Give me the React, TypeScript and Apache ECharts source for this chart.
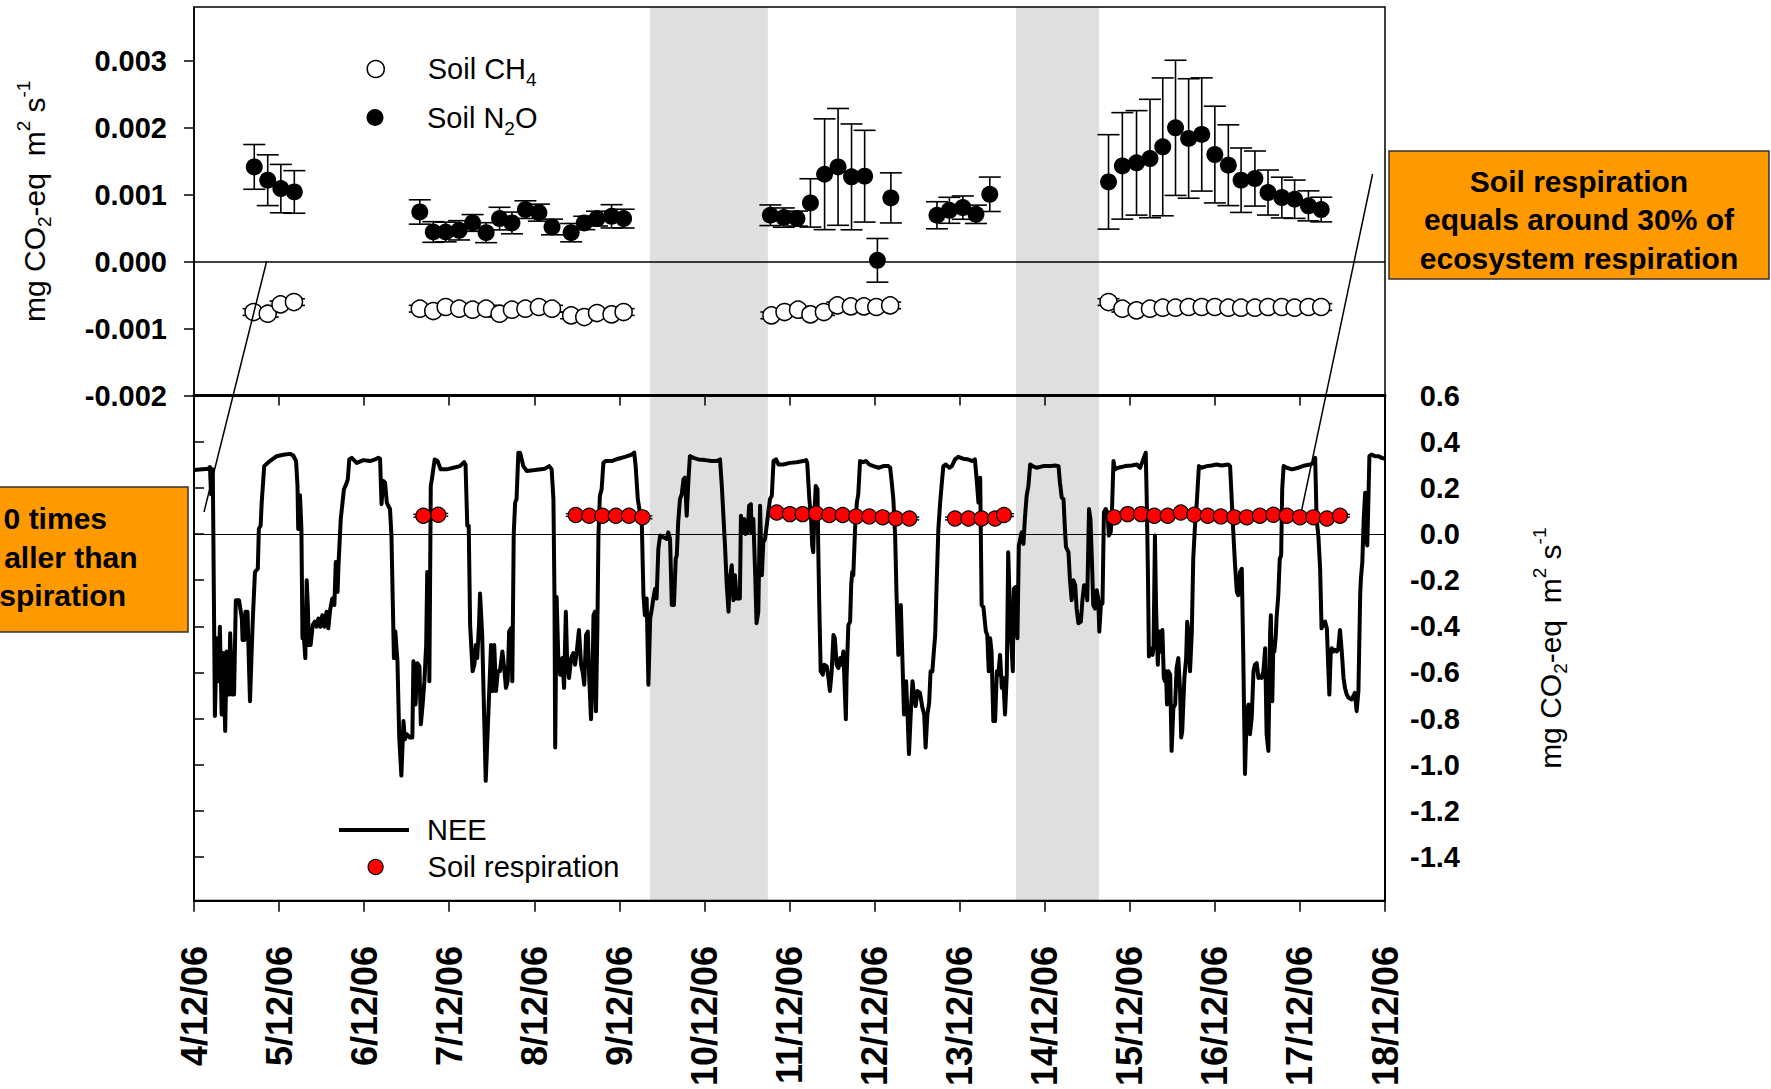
import React, { useEffect, useRef } from 'react';
import * as echarts from 'echarts';

const FONT = '"Liberation Sans", Arial, Helvetica, sans-serif';

// Time axis: hours since 4 Dec 2006 00:00, one tick per day
const dayLabels = [
  '4/12/06', '5/12/06', '6/12/06', '7/12/06', '8/12/06', '9/12/06', '10/12/06', '11/12/06',
  '12/12/06', '13/12/06', '14/12/06', '15/12/06', '16/12/06', '17/12/06', '18/12/06',
];
const soilTicks = [-0.002, -0.001, 0, 0.001, 0.002, 0.003];
const neeTicks = [-1.4, -1.2, -1.0, -0.8, -0.6, -0.4, -0.2, 0, 0.2, 0.4, 0.6];

// Shaded periods (hours)
const shadedPeriods = [
  [128.6, 161.9],
  [231.9, 255.3],
];

// Soil N2O flux, mg CO2-eq m-2 s-1 (mean and error)
const n2oHours = [
  17.0, 20.8, 24.5, 28.3,
  63.7, 67.5, 71.0, 74.8, 78.6, 82.4, 86.2, 89.7, 93.5, 97.3, 101.0, 106.4, 110.1, 113.7, 117.8, 121.2,
  162.6, 166.4, 170.1, 173.9, 177.9, 181.7, 185.5, 189.2, 192.8, 196.6,
  209.6, 213.1, 216.9, 220.6, 224.5,
  258.0, 261.9, 265.9, 269.7, 273.3, 276.9, 280.6, 284.3, 288.0, 291.8, 295.4, 299.3, 303.0, 306.9, 310.5, 314.4, 318.0,
];
const n2oFlux = [
  0.001413, 0.001214, 0.001089, 0.001039,
  0.00074, 0.000441, 0.000441, 0.000466, 0.000576, 0.000431, 0.000641, 0.000576, 0.000775, 0.00073, 0.000516, 0.000431, 0.000576, 0.000641, 0.000675, 0.000641,
  0.000691, 0.000656, 0.000641, 0.000875, 0.001303, 0.001413, 0.001264, 0.001274, 0.000018, 0.00095,
  0.000691, 0.000765, 0.000805, 0.000705, 0.001004,
  0.001189, 0.001428, 0.001473, 0.001538, 0.001712, 0.001996, 0.001837, 0.001897, 0.001597, 0.001438, 0.001214, 0.001239, 0.00103, 0.000955, 0.00093, 0.000831, 0.000776,
];
const n2oErr = [
  0.000334, 0.000379, 0.000361, 0.000318,
  0.000182, 0.000154, 0.000147, 0.000144, 0.000125, 0.000149, 0.000169, 0.000162, 0.000132, 0.000127, 0.000117, 0.000137, 0.0001, 0.00011, 0.000174, 0.00014,
  0.000154, 0.000144, 0.000112, 0.000361, 0.000827, 0.000872, 0.00079, 0.000685, 0.000326, 0.000374,
  0.000202, 0.000194, 0.000174, 0.000137, 0.000257,
  0.000705, 0.000795, 0.00078, 0.000884, 0.001029, 0.001009, 0.000892, 0.000845, 0.000722, 0.000603, 0.000481, 0.000411, 0.000336, 0.000304, 0.000286, 0.000224, 0.000184,
];

// Soil CH4 flux, mg CO2-eq m-2 s-1
const ch4Hours = [
  16.8, 20.8, 24.4, 28.2,
  63.7, 67.5, 71.0, 74.8, 78.6, 82.4, 86.2, 89.7, 93.5, 97.3, 101.0, 106.4, 110.1, 113.7, 117.8, 121.2,
  162.9, 166.6, 170.4, 173.9, 177.7, 181.5, 185.3, 189.0, 192.5, 196.4,
  258.0, 261.9, 265.9, 269.7, 273.3, 276.9, 280.6, 284.3, 288.0, 291.8, 295.4, 299.3, 303.0, 306.9, 310.5, 314.4, 318.0,
];
const ch4Flux = [
  -0.000754, -0.000779, -0.00064, -0.000605,
  -0.000704, -0.000739, -0.000679, -0.000704, -0.000719, -0.000704, -0.000779, -0.000719, -0.000704, -0.000679, -0.000704, -0.000804, -0.000829, -0.000769, -0.000789, -0.000754,
  -0.000804, -0.000754, -0.000719, -0.000789, -0.000754, -0.000655, -0.00067, -0.00067, -0.000679, -0.000655,
  -0.000605, -0.000704, -0.000729, -0.000704, -0.000689, -0.000689, -0.000679, -0.000679, -0.000679, -0.000689, -0.000689, -0.000689, -0.000679, -0.000679, -0.000689, -0.000679, -0.000679,
];
const ch4Err = [
  0.00005, 0.00005, 0.00005, 0.00005,
  0.00005, 0.00005, 0.00005, 0.00005, 0.00005, 0.00005, 0.00005, 0.00005, 0.00005, 0.00005, 0.00005, 0.00005, 0.00005, 0.00005, 0.00005, 0.00005,
  0.00005, 0.00005, 0.00005, 0.00005, 0.00005, 0.00005, 0.00005, 0.00005, 0.00005, 0.00005,
  0.00005, 0.00005, 0.00005, 0.00005, 0.00005, 0.00005, 0.00005, 0.00005, 0.00005, 0.00005, 0.00005, 0.00005, 0.00005, 0.00005, 0.00005, 0.00005, 0.00005,
];

// Soil respiration, mg CO2-eq m-2 s-1
const respHours = [
  64.7, 68.9,
  107.7, 111.5, 115.2, 119.0, 122.7, 126.5,
  164.4, 168.1, 171.7, 175.5, 179.2, 183.0, 186.8, 190.5, 194.3, 198.0, 201.8,
  214.7, 218.5, 222.2, 226.0, 228.5,
  259.6, 263.4, 267.2, 270.9, 274.7, 278.4, 282.2, 286.0, 289.7, 293.5, 297.0, 300.7, 304.5, 308.3, 312.0, 315.8, 319.6, 323.3,
];
const respFlux = [
  0.079, 0.083,
  0.082, 0.079, 0.079, 0.079, 0.079, 0.072,
  0.093, 0.086, 0.086, 0.089, 0.082, 0.082, 0.076, 0.076, 0.072, 0.067, 0.067,
  0.067, 0.067, 0.067, 0.067, 0.082,
  0.072, 0.086, 0.086, 0.079, 0.079, 0.093, 0.083, 0.079, 0.076, 0.072, 0.072, 0.079, 0.083, 0.079, 0.072, 0.072, 0.067, 0.079,
];
const respErr = [
  0.006, 0.006,
  0.006, 0.006, 0.006, 0.006, 0.006, 0.006,
  0.006, 0.006, 0.006, 0.006, 0.006, 0.006, 0.006, 0.006, 0.006, 0.006, 0.006,
  0.006, 0.006, 0.006, 0.006, 0.006,
  0.006, 0.006, 0.006, 0.006, 0.006, 0.006, 0.006, 0.006, 0.006, 0.006, 0.006, 0.006, 0.006, 0.006, 0.006, 0.006, 0.006, 0.006,
];

// Net ecosystem exchange [hour, mg CO2-eq m-2 s-1]
const nee: [number, number][] = [
  [0, 0.277], [4.0, 0.283], [4.5, 0.29], [4.8, 0.172], [5.3, 0.28], [5.9, -0.789], [6.4, -0.452], [6.9, -0.638], [7.3, -0.402], [7.8, -0.782],
  [8.3, -0.516], [8.8, -0.854], [9.2, -0.509], [9.9, -0.696], [10.2, -0.43], [10.8, -0.696], [11.3, -0.696], [11.8, -0.287], [12.7, -0.287], [13.5, -0.366],
  [13.7, -0.459], [14.2, -0.459], [14.5, -0.337], [15.1, -0.337], [15.4, -0.509], [15.8, -0.725], [16.2, -0.538], [16.6, -0.366], [17.2, -0.165], [18.0, -0.151],
  [18.3, 0.022], [18.8, 0.036], [19.1, 0.136], [19.8, 0.294], [20.3, 0.301], [21.4, 0.316], [23.3, 0.337], [25.2, 0.343], [27.1, 0.347], [28.0, 0.34],
  [28.8, 0.316], [29.2, 0.208], [29.4, 0.022], [29.9, 0.168], [30.3, 0.022], [30.6, -0.452], [31.0, -0.445], [31.4, -0.538], [31.8, -0.201], [32.1, -0.308],
  [32.4, -0.481], [32.9, -0.481], [33.5, -0.395], [34.1, -0.38], [34.6, -0.402], [35.1, -0.366], [35.7, -0.402], [36.2, -0.352], [36.8, -0.402], [37.4, -0.337],
  [37.9, -0.409], [38.4, -0.33], [39.0, -0.28], [39.6, -0.308], [40.0, -0.122], [40.5, -0.251], [40.8, -0.122], [41.4, 0.065], [41.9, 0.136], [42.3, 0.194],
  [42.9, 0.215], [43.4, 0.237], [43.8, 0.323], [44.5, 0.33], [45.9, 0.308], [47.8, 0.32], [49.7, 0.316], [51.1, 0.323], [52.0, 0.33], [52.5, 0.326],
  [52.9, 0.129], [53.4, 0.23], [53.9, 0.222], [54.4, 0.136], [54.8, 0.122], [55.3, 0.108], [55.7, -0.007], [56.1, -0.308], [56.4, -0.538], [56.8, -0.423],
  [57.4, -0.552], [57.9, -0.882], [58.5, -1.047], [59.1, -0.811], [59.5, -0.89], [60.0, -0.868], [60.9, -0.882], [61.6, -0.882], [61.9, -0.552], [62.5, -0.739],
  [63.0, -0.56], [63.6, -0.574], [64.0, -0.825], [64.5, -0.739], [65.0, -0.638], [65.5, -0.481], [65.8, -0.165], [66.2, -0.172], [66.4, -0.638], [66.8, 0.208],
  [67.1, 0.237], [67.9, 0.323], [68.7, 0.316], [69.6, 0.28], [71.3, 0.28], [73.2, 0.287], [75.0, 0.294], [76.2, 0.311], [76.6, 0.301], [77.1, 0.036],
  [77.5, 0.036], [77.9, -0.395], [78.6, -0.595], [79.1, -0.567], [79.5, -0.481], [79.9, -0.538], [80.4, -0.395], [80.7, -0.258], [81.3, -0.438], [82.3, -1.07],
  [83.8, -0.481], [84.2, -0.681], [84.7, -0.481], [85.2, -0.681], [85.7, -0.595], [86.3, -0.595], [87.0, -0.509], [87.6, -0.595], [88.0, -0.667], [88.5, -0.638],
  [88.9, -0.423], [89.4, -0.409], [89.8, -0.638], [90.2, 0], [90.6, 0.136], [91.0, 0.151], [91.5, 0.352], [92.0, 0.352], [92.9, 0.294], [93.9, 0.273],
  [96.2, 0.277], [99.0, 0.283], [100.2, 0.294], [100.9, 0.28], [101.4, 0.151], [101.7, -0.28], [101.9, -0.925], [102.3, -0.273], [102.8, -0.552], [103.3, -0.61],
  [103.9, -0.538], [104.4, -0.667], [104.9, -0.337], [105.3, -0.567], [105.8, -0.624], [106.4, -0.538], [107.0, -0.516], [107.5, -0.567], [108.0, -0.509], [108.6, -0.416],
  [109.2, -0.567], [109.7, -0.603], [110.1, -0.653], [110.6, -0.438], [111.1, -0.423], [111.5, -0.624], [112.0, -0.803], [112.4, -0.653], [112.7, -0.352], [113.1, -0.337],
  [113.4, -0.768], [113.8, -0.409], [114.1, -0.007], [114.5, 0.165], [115.0, 0.194], [115.5, 0.308], [116.1, 0.316], [117.8, 0.316], [119.7, 0.326], [121.6, 0.334],
  [123.5, 0.344], [124.2, 0.352], [124.6, 0.294], [125.2, 0.151], [125.8, 0.093], [126.3, 0.065], [126.8, -0.265], [127.2, -0.352], [127.7, -0.28], [128.2, -0.653],
  [128.7, -0.366], [129.1, -0.33], [129.6, -0.28], [130.1, -0.237], [130.5, -0.28], [131.0, -0.065], [131.5, -0.007], [132.4, -0.014], [133.4, -0.022], [133.8, 0.007],
  [134.3, -0.022], [134.8, -0.308], [135.4, -0.308], [135.9, -0.108], [136.2, -0.093], [136.6, 0.05], [137.1, 0.151], [137.6, 0.172], [138.1, 0.237], [138.5, 0.244],
  [139.0, 0.079], [139.5, 0.237], [139.9, 0.337], [140.9, 0.33], [142.3, 0.323], [144.2, 0.32], [146.0, 0.316], [147.5, 0.316], [148.4, 0.323], [148.9, 0.208],
  [149.8, -0.05], [150.3, -0.222], [150.8, -0.337], [151.2, -0.194], [151.7, -0.136], [152.2, -0.287], [152.6, -0.179], [153.1, -0.28], [154.0, -0.28], [154.3, 0.079],
  [154.8, 0.007], [155.2, 0.065], [155.6, 0], [156.2, 0.007], [156.6, 0.122], [157.1, 0.129], [157.3, 0.007], [157.8, 0.065], [158.3, -0.165], [158.7, -0.387],
  [159.2, -0.337], [159.7, 0.122], [160.2, -0.179], [160.6, -0.036], [161.1, -0.022], [161.8, 0.065], [162.5, 0.151], [163.0, 0.165], [163.5, 0.316], [164.2, 0.323],
  [164.9, 0.301], [166.3, 0.301], [168.1, 0.308], [170.0, 0.311], [171.9, 0.316], [172.7, 0.32], [173.0, 0.308], [173.6, 0.151], [174.1, 0.065], [174.4, -0.05],
  [174.7, -0.079], [175.0, 0.079], [175.4, 0.208], [175.9, 0.194], [176.1, -0.05], [176.4, -0.308], [176.8, -0.595], [177.4, -0.61], [177.8, -0.567], [178.5, -0.574],
  [179.0, -0.624], [179.4, -0.681], [179.9, -0.595], [180.4, -0.438], [180.8, -0.452], [181.3, -0.567], [181.8, -0.581], [182.3, -0.538], [182.7, -0.567], [183.2, -0.509],
  [183.5, -0.638], [183.9, -0.803], [184.1, -0.624], [184.6, -0.395], [185.1, -0.38], [185.4, -0.222], [185.7, -0.165], [186.0, -0.179], [186.5, 0.022], [187.0, 0.136],
  [187.4, 0.172], [187.9, 0.316], [188.8, 0.311], [189.6, 0.316], [190.5, 0.301], [191.7, 0.294], [193.1, 0.287], [194.5, 0.294], [195.9, 0.294], [196.4, 0.287],
  [196.8, 0.23], [197.3, 0.151], [197.8, -0.007], [198.2, -0.265], [198.7, -0.524], [199.0, -0.395], [199.4, -0.308], [199.9, -0.567], [200.3, -0.782], [200.9, -0.638],
  [201.3, -0.782], [201.7, -0.954], [202.2, -0.782], [202.7, -0.638], [203.1, -0.696], [203.6, -0.746], [204.1, -0.681], [204.8, -0.689], [205.5, -0.753], [206.0, -0.782],
  [206.4, -0.925], [206.9, -0.782], [207.4, -0.732], [207.8, -0.595], [208.3, -0.595], [208.8, -0.495], [209.1, -0.438], [209.5, -0.222], [210.0, 0.022], [210.5, 0.136],
  [210.9, 0.208], [211.4, 0.294], [212.1, 0.301], [213.1, 0.287], [213.8, 0.294], [214.7, 0.323], [215.6, 0.334], [217.0, 0.326], [218.5, 0.323], [219.4, 0.316],
  [220.3, 0.323], [220.8, 0.237], [221.3, 0.136], [221.8, 0.244], [222.2, -0.308], [222.7, -0.316], [223.4, -0.423], [223.8, -0.438], [224.2, -0.595], [224.6, -0.452],
  [225.0, -0.509], [225.5, -0.811], [226.0, -0.811], [226.5, -0.595], [226.9, -0.61], [227.4, -0.524], [227.9, -0.667], [228.3, -0.624], [228.8, -0.782], [229.3, -0.61],
  [229.7, -0.079], [230.0, -0.237], [230.5, -0.452], [231.0, -0.595], [231.3, -0.237], [231.8, -0.23], [232.3, -0.452], [232.7, -0.05], [233.0, -0.029], [233.5, 0.007],
  [234.0, -0.043], [234.4, 0.065], [234.9, 0.165], [235.4, 0.208], [235.9, 0.301], [236.6, 0.294], [237.7, 0.287], [239.6, 0.294], [241.5, 0.294], [242.9, 0.297],
  [243.9, 0.294], [244.3, 0.222], [244.8, 0.158], [245.3, 0.151], [245.7, 0.022], [246.0, -0.057], [246.7, -0.079], [247.1, -0.194], [247.6, -0.287], [248.1, -0.201],
  [248.6, -0.222], [249.0, -0.323], [249.5, -0.387], [250.2, -0.38], [250.6, -0.294], [251.1, -0.222], [251.7, -0.222], [252.0, -0.287], [252.5, 0.108], [252.9, 0.065],
  [253.3, -0.108], [253.7, -0.308], [254.2, -0.323], [254.7, -0.244], [255.1, -0.28], [255.4, -0.423], [255.9, -0.294], [256.3, -0.301], [256.7, 0.093], [257.2, 0.108],
  [257.7, 0.093], [258.1, -0.007], [258.6, 0.007], [258.9, 0.065], [259.4, 0.316], [259.8, 0.28], [260.8, 0.287], [262.7, 0.294], [264.5, 0.297], [266.0, 0.301],
  [266.9, 0.287], [267.8, 0.323], [268.5, 0.352], [268.8, 0.136], [269.1, -0.151], [269.4, -0.531], [269.8, -0.495], [270.4, -0.524], [270.7, -0.495], [271.1, -0.007],
  [271.4, -0.308], [271.9, -0.567], [272.3, -0.423], [272.8, -0.509], [273.2, -0.416], [273.6, -0.624], [273.9, -0.638], [274.2, -0.595], [274.5, -0.739], [274.9, -0.595],
  [275.4, -0.61], [275.8, -0.94], [276.3, -0.753], [276.8, -0.739], [277.2, -0.581], [277.7, -0.538], [278.2, -0.681], [278.5, -0.882], [278.8, -0.854], [279.4, -0.624],
  [279.9, -0.538], [280.2, -0.38], [280.5, -0.423], [281.0, -0.595], [281.5, -0.423], [281.9, -0.108], [282.4, 0.036], [282.9, 0.136], [283.5, 0.294], [284.3, 0.287],
  [285.7, 0.294], [287.1, 0.297], [288.5, 0.301], [289.9, 0.297], [291.8, 0.301], [292.3, 0.294], [292.8, 0.136], [293.2, 0.007], [293.7, -0.136], [294.2, -0.251],
  [294.6, -0.265], [295.1, -0.165], [295.6, -0.151], [296.0, -0.509], [296.5, -1.04], [297.0, -0.768], [297.5, -0.739], [297.9, -0.868], [298.4, -0.796], [298.9, -0.595],
  [299.3, -0.567], [299.8, -0.56], [300.3, -0.624], [300.7, -0.617], [301.2, -0.624], [301.7, -0.595], [302.2, -0.495], [302.6, -0.868], [303.1, -0.94], [303.6, -0.423],
  [303.8, -0.352], [304.2, -0.725], [304.5, -0.481], [304.8, -0.509], [305.2, -0.438], [305.4, -0.366], [305.9, -0.265], [306.3, -0.108], [306.7, -0.093], [307.0, 0.194],
  [307.4, 0.294], [308.3, 0.287], [309.7, 0.28], [311.6, 0.287], [313.4, 0.297], [314.9, 0.301], [315.8, 0.308], [316.3, 0.33], [316.7, 0.065], [317.2, -0.007],
  [317.7, -0.151], [318.1, -0.409], [318.6, -0.395], [319.1, -0.38], [319.6, -0.409], [320.0, -0.581], [320.3, -0.696], [320.7, -0.509], [321.0, -0.495], [321.4, -0.509],
  [321.9, -0.502], [322.4, -0.509], [322.8, -0.502], [323.3, -0.416], [323.8, -0.509], [324.3, -0.624], [324.7, -0.667], [325.2, -0.696], [325.7, -0.71], [326.6, -0.717],
  [327.5, -0.689], [328.0, -0.768], [328.5, -0.681], [329.0, -0.265], [329.2, -0.194], [329.6, -0.122], [330.0, 0.065], [330.4, 0.179], [330.6, -0.007], [331.0, -0.05],
  [331.3, 0.136], [331.6, 0.337], [332.2, 0.344], [333.2, 0.337], [334.1, 0.337], [335.1, 0.33], [336.0, 0.326],
];

const unitsName = 'mg CO{sub|2}-eq  m{sup|2} s{sup|-1}';
const scriptRich = {
  sub: { fontSize: 19, lineHeight: 20, verticalAlign: 'bottom' },
  sup: { fontSize: 19, lineHeight: 20, verticalAlign: 'top' },
};

function errorBars(axis: number, hours: number[], values: number[], errs: number[], capHalf: number, width: number, z: number) {
  return {
    type: 'custom',
    xAxisIndex: axis,
    yAxisIndex: axis,
    z,
    silent: true,
    data: hours.map((h, i) => [h, values[i], errs[i]]),
    encode: { x: 0, y: 1 },
    renderItem: (_params: any, api: any) => {
      const x = api.value(0);
      const y = api.value(1);
      const e = api.value(2);
      const hi = api.coord([x, y + e]);
      const lo = api.coord([x, y - e]);
      const style = { stroke: '#000', lineWidth: width };
      return {
        type: 'group',
        children: [
          { type: 'line', shape: { x1: hi[0], y1: hi[1], x2: lo[0], y2: lo[1] }, style },
          { type: 'line', shape: { x1: hi[0] - capHalf, y1: hi[1], x2: hi[0] + capHalf, y2: hi[1] }, style },
          { type: 'line', shape: { x1: lo[0] - capHalf, y1: lo[1], x2: lo[0] + capHalf, y2: lo[1] }, style },
        ],
      };
    },
  };
}

function shading(axis: number) {
  return {
    type: 'custom',
    xAxisIndex: axis,
    yAxisIndex: axis,
    z: -1,
    silent: true,
    data: shadedPeriods,
    renderItem: (params: any, api: any) => {
      const a = api.coord([api.value(0), 0]);
      const b = api.coord([api.value(1), 0]);
      const cs = params.coordSys;
      return {
        type: 'rect',
        shape: { x: a[0], y: cs.y, width: b[0] - a[0], height: cs.height },
        style: { fill: '#dfdfdf' },
      };
    },
  };
}

const tickLabelStyle = { fontFamily: FONT, fontSize: 29, fontWeight: 'bold', color: '#000' };
const tickStyle = { show: true, inside: false, length: 10, lineStyle: { color: '#000', width: 1.5 } };
const boxFont = { fontFamily: FONT, fontSize: 30, fontWeight: 'bold', fill: '#000', verticalAlign: 'middle' };

function buildOption(): any {
  const legendText = (extra: any = {}) => ({
    fontFamily: FONT,
    fontSize: 29,
    color: '#000',
    lineHeight: 40,
    rich: scriptRich,
    ...extra,
  });
  const unitsStyle = { fontFamily: FONT, fontSize: 30, color: '#000', lineHeight: 40, rich: scriptRich };
  return {
    animation: false,
    backgroundColor: '#fff',
    textStyle: { fontFamily: FONT },
    grid: [
      { left: 194, top: 7, width: 1191, height: 388.5, show: true, borderColor: '#000', borderWidth: 1.5, backgroundColor: 'transparent' },
      { left: 194, top: 395.5, width: 1191, height: 508.6, show: true, borderColor: '#000', borderWidth: 2, backgroundColor: 'transparent' },
    ],
    xAxis: [
      {
        gridIndex: 0, type: 'value', min: 0, max: 336, interval: 24,
        axisLine: { show: true, onZero: false, lineStyle: { color: '#000', width: 3 } },
        axisTick: tickStyle,
        axisLabel: { show: false },
        splitLine: { show: false },
      },
      {
        gridIndex: 1, type: 'value', min: 0, max: 336, interval: 24,
        axisLine: { show: true, onZero: false, lineStyle: { color: '#000', width: 2 } },
        axisTick: { ...tickStyle, length: 11 },
        axisLabel: {
          ...tickLabelStyle,
          fontSize: 36,
          rotate: 90,
          margin: 45,
          formatter: (v: number) => dayLabels[Math.round(v / 24)] ?? '',
        },
        splitLine: { show: false },
      },
    ],
    yAxis: [
      {
        gridIndex: 0, type: 'value', position: 'left', min: -0.002, max: 0.0038,
        axisLine: { show: true, lineStyle: { color: '#000', width: 1.5 } },
        axisTick: { ...tickStyle, customValues: soilTicks },
        axisLabel: {
          ...tickLabelStyle,
          margin: 27,
          customValues: soilTicks,
          formatter: (v: number) => v.toFixed(3),
        },
        splitLine: { show: false },
        name: unitsName,
        nameLocation: 'middle',
        nameRotate: 90,
        nameGap: 140,
        nameTextStyle: unitsStyle,
      },
      {
        gridIndex: 1, type: 'value', position: 'right', min: -1.59, max: 0.6,
        axisLine: { show: true, lineStyle: { color: '#000', width: 2 } },
        axisTick: { ...tickStyle, customValues: neeTicks },
        axisLabel: {
          ...tickLabelStyle,
          align: 'right',
          margin: 75,
          customValues: neeTicks,
          formatter: (v: number) => v.toFixed(1),
        },
        splitLine: { show: false },
        name: unitsName,
        nameLocation: 'middle',
        nameRotate: 90,
        nameGap: 145,
        nameTextStyle: unitsStyle,
      },
    ],
    legend: [
      {
        data: ['Soil CH4'], left: 366.5, top: 49, padding: 0, selectedMode: false,
        icon: 'circle', itemWidth: 94, itemHeight: 17,
        itemStyle: { color: '#fff', borderColor: '#000', borderWidth: 1.5 },
        formatter: () => 'Soil CH{sub|4}',
        textStyle: legendText(),
      },
      {
        data: ['Soil N2O'], left: 366.5, top: 97.5, padding: 0, selectedMode: false,
        icon: 'circle', itemWidth: 94, itemHeight: 17,
        itemStyle: { color: '#000', borderWidth: 0 },
        formatter: () => 'Soil N{sub|2}O',
        textStyle: legendText(),
      },
      {
        data: ['NEE'], left: 339, top: 810, padding: 0, selectedMode: false,
        icon: 'rect', itemWidth: 70, itemHeight: 4,
        itemStyle: { color: '#000', borderWidth: 0 },
        textStyle: legendText({ padding: [0, 0, 0, 13] }),
      },
      {
        data: ['Soil respiration'], left: 367.5, top: 847, padding: 0, selectedMode: false,
        icon: 'circle', itemWidth: 94, itemHeight: 15,
        itemStyle: { color: '#ff0000', borderColor: '#000', borderWidth: 1.2 },
        textStyle: legendText(),
      },
    ],
    series: [
      shading(0),
      shading(1),
      errorBars(0, n2oHours, n2oFlux, n2oErr, 11, 1.6, 3),
      errorBars(0, ch4Hours, ch4Flux, ch4Err, 11, 1.6, 3),
      {
        name: 'Soil N2O', type: 'scatter', xAxisIndex: 0, yAxisIndex: 0, z: 4,
        symbol: 'circle', symbolSize: 17,
        itemStyle: { color: '#000', opacity: 1 },
        data: n2oHours.map((h, i) => [h, n2oFlux[i]]),
        markLine: {
          silent: true, symbol: ['none', 'none'], label: { show: false },
          lineStyle: { color: '#000', width: 1.5, type: 'solid' },
          data: [{ yAxis: 0 }],
        },
      },
      {
        name: 'Soil CH4', type: 'scatter', xAxisIndex: 0, yAxisIndex: 0, z: 4,
        symbol: 'circle', symbolSize: 17,
        itemStyle: { color: '#fff', borderColor: '#000', borderWidth: 1.5, opacity: 1 },
        data: ch4Hours.map((h, i) => [h, ch4Flux[i]]),
      },
      {
        name: 'NEE', type: 'line', xAxisIndex: 1, yAxisIndex: 1, z: 3,
        symbol: 'none', showSymbol: false, color: '#000',
        lineStyle: { color: '#000', width: 4, join: 'round' },
        itemStyle: { color: '#000' },
        data: nee,
        markLine: {
          silent: true, symbol: ['none', 'none'], label: { show: false },
          lineStyle: { color: '#000', width: 1.2, type: 'solid' },
          data: [{ yAxis: 0 }],
        },
      },
      errorBars(1, respHours, respFlux, respErr, 10, 1.4, 4),
      {
        name: 'Soil respiration', type: 'scatter', xAxisIndex: 1, yAxisIndex: 1, z: 5,
        symbol: 'circle', symbolSize: 15,
        itemStyle: { color: '#ff0000', borderColor: '#000', borderWidth: 1.2, opacity: 1 },
        data: respHours.map((h, i) => [h, respFlux[i]]),
      },
    ],
    graphic: [
      { type: 'line', z: 100, shape: { x1: 204, y1: 512, x2: 266.7, y2: 261 }, style: { stroke: '#000', lineWidth: 1.5 } },
      { type: 'line', z: 100, shape: { x1: 1372.6, y1: 174, x2: 1301.5, y2: 511 }, style: { stroke: '#000', lineWidth: 1.5 } },
      { type: 'rect', z: 100, shape: { x: 1389, y: 151, width: 380, height: 128 }, style: { fill: '#ff9900', stroke: '#333', lineWidth: 1.5 } },
      { type: 'text', z: 101, x: 1579, y: 181, style: { ...boxFont, text: 'Soil respiration', align: 'center' } },
      { type: 'text', z: 101, x: 1579, y: 219.5, style: { ...boxFont, text: 'equals around 30% of', align: 'center' } },
      { type: 'text', z: 101, x: 1579, y: 258, style: { ...boxFont, text: 'ecosystem respiration', align: 'center' } },
      { type: 'rect', z: 100, shape: { x: -5, y: 487, width: 193, height: 145 }, style: { fill: '#ff9900', stroke: '#333', lineWidth: 1.5 } },
      { type: 'text', z: 101, x: 107, y: 518, style: { ...boxFont, text: '0 times', align: 'right' } },
      { type: 'text', z: 101, x: 137.5, y: 557, style: { ...boxFont, text: 'aller than', align: 'right' } },
      { type: 'text', z: 101, x: 126, y: 595, style: { ...boxFont, text: 'spiration', align: 'right' } },
    ],
  };
}

export default function App() {
  const ref = useRef<HTMLDivElement>(null);
  useEffect(() => {
    if (!ref.current) return;
    const chart = echarts.init(ref.current, undefined, { renderer: 'svg' });
    chart.setOption(buildOption());
    return () => chart.dispose();
  }, []);
  return (
    <div
      ref={ref}
      style={{ position: 'absolute', left: 0, top: 0, width: 1771, height: 1089, background: '#fff' }}
    />
  );
}
